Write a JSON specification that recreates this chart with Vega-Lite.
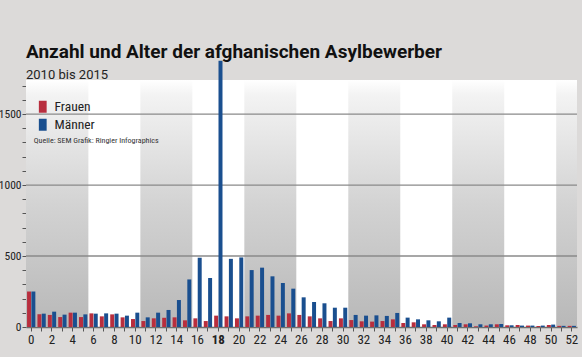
{
  "$schema": "https://vega.github.io/schema/vega-lite/v6.json",
  "width": 551,
  "height": 247,
  "autosize": {"type": "none"},
  "padding": {"left": 26, "top": 80, "right": 5, "bottom": 30},
  "background": "#dcdad9",
  "view": {"fill": "#ffffff", "stroke": null},
  "config": {
    "axisY": {
      "labelOverlap": false,
      "format": "d",
      "labelFont": "Roboto Condensed, Liberation Sans Narrow, DejaVu Sans Condensed, Roboto",
      "labelFontSize": 11.5,
      "labelColor": "#222222",
      "labelPadding": 1,
      "tickSize": 4,
      "tickColor": "#555555",
      "domain": false,
      "grid": false,
      "title": null
    }
  },
  "title": {
    "text": "Anzahl und Alter der afghanischen Asylbewerber",
    "subtitle": "2010 bis 2015",
    "anchor": "start",
    "frame": "group",
    "font": "Roboto",
    "fontSize": 19,
    "fontWeight": "bold",
    "color": "#111111",
    "subtitleFont": "Roboto",
    "subtitleFontSize": 13,
    "subtitleColor": "#222222",
    "subtitlePadding": 7,
    "offset": -21
  },
  "datasets": {
    "stripes": [
      {"start": -0.5, "end": 5.5},
      {"start": 10.5, "end": 15.5},
      {"start": 20.5, "end": 25.5},
      {"start": 30.5, "end": 35.5},
      {"start": 40.5, "end": 45.5},
      {"start": 50.5, "end": 52.5}
    ],
    "grid": [{"n": 500}, {"n": 1000}, {"n": 1500}],
    "bars": [
      {"age": 0, "sex": "Frauen", "n": 250}, {"age": 0, "sex": "Männer", "n": 250},
      {"age": 1, "sex": "Frauen", "n": 90}, {"age": 1, "sex": "Männer", "n": 94},
      {"age": 2, "sex": "Frauen", "n": 85}, {"age": 2, "sex": "Männer", "n": 108},
      {"age": 3, "sex": "Frauen", "n": 70}, {"age": 3, "sex": "Männer", "n": 87},
      {"age": 4, "sex": "Frauen", "n": 101}, {"age": 4, "sex": "Männer", "n": 101},
      {"age": 5, "sex": "Frauen", "n": 70}, {"age": 5, "sex": "Männer", "n": 89},
      {"age": 6, "sex": "Frauen", "n": 96}, {"age": 6, "sex": "Männer", "n": 94},
      {"age": 7, "sex": "Frauen", "n": 75}, {"age": 7, "sex": "Männer", "n": 96},
      {"age": 8, "sex": "Frauen", "n": 89}, {"age": 8, "sex": "Männer", "n": 94},
      {"age": 9, "sex": "Frauen", "n": 68}, {"age": 9, "sex": "Männer", "n": 80},
      {"age": 10, "sex": "Frauen", "n": 56}, {"age": 10, "sex": "Männer", "n": 101},
      {"age": 11, "sex": "Frauen", "n": 42}, {"age": 11, "sex": "Männer", "n": 68},
      {"age": 12, "sex": "Frauen", "n": 61}, {"age": 12, "sex": "Männer", "n": 101},
      {"age": 13, "sex": "Frauen", "n": 65}, {"age": 13, "sex": "Männer", "n": 120},
      {"age": 14, "sex": "Frauen", "n": 68}, {"age": 14, "sex": "Männer", "n": 190},
      {"age": 15, "sex": "Frauen", "n": 47}, {"age": 15, "sex": "Männer", "n": 335},
      {"age": 16, "sex": "Frauen", "n": 61}, {"age": 16, "sex": "Männer", "n": 488},
      {"age": 17, "sex": "Frauen", "n": 42}, {"age": 17, "sex": "Männer", "n": 345},
      {"age": 18, "sex": "Frauen", "n": 80}, {"age": 18, "sex": "Männer", "n": 1875},
      {"age": 19, "sex": "Frauen", "n": 75}, {"age": 19, "sex": "Männer", "n": 480},
      {"age": 20, "sex": "Frauen", "n": 61}, {"age": 20, "sex": "Männer", "n": 490},
      {"age": 21, "sex": "Frauen", "n": 75}, {"age": 21, "sex": "Männer", "n": 401},
      {"age": 22, "sex": "Frauen", "n": 80}, {"age": 22, "sex": "Männer", "n": 418},
      {"age": 23, "sex": "Frauen", "n": 85}, {"age": 23, "sex": "Männer", "n": 357},
      {"age": 24, "sex": "Frauen", "n": 80}, {"age": 24, "sex": "Männer", "n": 310},
      {"age": 25, "sex": "Frauen", "n": 96}, {"age": 25, "sex": "Männer", "n": 270},
      {"age": 26, "sex": "Frauen", "n": 85}, {"age": 26, "sex": "Männer", "n": 209},
      {"age": 27, "sex": "Frauen", "n": 75}, {"age": 27, "sex": "Männer", "n": 176},
      {"age": 28, "sex": "Frauen", "n": 61}, {"age": 28, "sex": "Männer", "n": 167},
      {"age": 29, "sex": "Frauen", "n": 42}, {"age": 29, "sex": "Männer", "n": 136},
      {"age": 30, "sex": "Frauen", "n": 61}, {"age": 30, "sex": "Männer", "n": 136},
      {"age": 31, "sex": "Frauen", "n": 49}, {"age": 31, "sex": "Männer", "n": 85},
      {"age": 32, "sex": "Frauen", "n": 40}, {"age": 32, "sex": "Männer", "n": 80},
      {"age": 33, "sex": "Frauen", "n": 38}, {"age": 33, "sex": "Männer", "n": 82},
      {"age": 34, "sex": "Frauen", "n": 42}, {"age": 34, "sex": "Männer", "n": 78},
      {"age": 35, "sex": "Frauen", "n": 54}, {"age": 35, "sex": "Männer", "n": 99},
      {"age": 36, "sex": "Frauen", "n": 28}, {"age": 36, "sex": "Männer", "n": 66},
      {"age": 37, "sex": "Frauen", "n": 33}, {"age": 37, "sex": "Männer", "n": 54},
      {"age": 38, "sex": "Frauen", "n": 19}, {"age": 38, "sex": "Männer", "n": 47},
      {"age": 39, "sex": "Frauen", "n": 14}, {"age": 39, "sex": "Männer", "n": 40},
      {"age": 40, "sex": "Frauen", "n": 19}, {"age": 40, "sex": "Männer", "n": 66},
      {"age": 41, "sex": "Frauen", "n": 14}, {"age": 41, "sex": "Männer", "n": 28},
      {"age": 42, "sex": "Frauen", "n": 19}, {"age": 42, "sex": "Männer", "n": 26},
      {"age": 43, "sex": "Frauen", "n": 5}, {"age": 43, "sex": "Männer", "n": 19},
      {"age": 44, "sex": "Frauen", "n": 10}, {"age": 44, "sex": "Männer", "n": 19},
      {"age": 45, "sex": "Frauen", "n": 19}, {"age": 45, "sex": "Männer", "n": 21},
      {"age": 46, "sex": "Frauen", "n": 12}, {"age": 46, "sex": "Männer", "n": 12},
      {"age": 47, "sex": "Frauen", "n": 14}, {"age": 47, "sex": "Männer", "n": 10},
      {"age": 48, "sex": "Frauen", "n": 10}, {"age": 48, "sex": "Männer", "n": 10},
      {"age": 49, "sex": "Frauen", "n": 7}, {"age": 49, "sex": "Männer", "n": 10},
      {"age": 50, "sex": "Frauen", "n": 14}, {"age": 50, "sex": "Männer", "n": 17},
      {"age": 51, "sex": "Frauen", "n": 8}, {"age": 51, "sex": "Männer", "n": 8},
      {"age": 52, "sex": "Frauen", "n": 8}, {"age": 52, "sex": "Männer", "n": 8}
    ]
  },
  "layer": [
    {
      "layer": [
        {
          "data": {"name": "stripes"},
          "mark": {
            "type": "rect",
            "color": {
              "gradient": "linear",
              "x1": 0, "y1": 0, "x2": 0, "y2": 1,
              "stops": [
                {"offset": 0, "color": "#ffffff"},
                {"offset": 0.06, "color": "#f3f3f3"},
                {"offset": 0.5, "color": "#d3d3d3"},
                {"offset": 1, "color": "#b8b8b8"}
              ]
            }
          },
          "encoding": {
            "x": {"field": "start", "type": "quantitative", "scale": {"domain": [-0.5, 52.5], "nice": false, "zero": false}, "axis": null},
            "x2": {"field": "end"}
          }
        },
        {
          "data": {"name": "grid"},
          "mark": {"type": "rule", "color": "#8a8a8a", "strokeWidth": 1.3},
          "encoding": {
            "y": {
              "field": "n", "type": "quantitative",
              "scale": {"domain": [0, 1740], "nice": false},
              "axis": {
                "orient": "left",
                "title": null,
                "values": [0, 100, 200, 300, 400, 500, 600, 700, 800, 900, 1000, 1100, 1200, 1300, 1400, 1500, 1600, 1700],
                "labelExpr": "datum.value % 500 === 0 ? datum.label : ''"
              }
            }
          }
        },
        {
          "data": {"values": [{"src": "Quelle: SEM  Grafik: Ringier Infographics"}]},
          "mark": {"type": "text", "align": "left", "baseline": "middle", "fontSize": 8, "font": "Roboto Condensed, Liberation Sans Narrow, DejaVu Sans Condensed, Roboto", "color": "#333333"},
          "encoding": {
            "x": {"datum": 0.25, "type": "quantitative"},
            "y": {
              "datum": 1310, "type": "quantitative",
              "axis": {
                "orient": "left",
                "title": null,
                "values": [0, 100, 200, 300, 400, 500, 600, 700, 800, 900, 1000, 1100, 1200, 1300, 1400, 1500, 1600, 1700],
                "labelExpr": "datum.value % 500 === 0 ? datum.label : ''"
              }
            },
            "text": {"field": "src"}
          }
        }
      ]
    },
    {
      "data": {"name": "bars"},
      "mark": {"type": "bar"},
      "encoding": {
        "x": {
          "field": "age", "type": "ordinal",
          "scale": {"paddingInner": 0.2, "paddingOuter": 0.1},
          "axis": {
            "orient": "bottom",
            "title": null,
            "labelAngle": 0,
            "labelOverlap": false,
            "labelExpr": "datum.value % 2 === 0 ? datum.label : ''",
            "labelFontWeight": {"condition": {"test": "datum.value == 18", "value": "bold"}, "value": "normal"},
            "labelFont": "Roboto Condensed, Liberation Sans Narrow, DejaVu Sans Condensed, Roboto",
            "labelFontSize": 13,
            "labelColor": "#222222",
            "labelPadding": 2,
            "tickSize": 4,
            "tickColor": "#555555",
            "domainColor": "#6e6e6e",
            "domainWidth": 1.5
          }
        },
        "xOffset": {"field": "sex", "type": "nominal", "scale": {"domain": ["Frauen", "Männer"], "paddingInner": 0.08}},
        "y": {
          "field": "n", "type": "quantitative",
          "scale": {"domain": [0, 1740], "nice": false},
          "axis": {
            "orient": "left",
            "title": null,
            "values": [0, 100, 200, 300, 400, 500, 600, 700, 800, 900, 1000, 1100, 1200, 1300, 1400, 1500, 1600, 1700],
            "labelExpr": "datum.value % 500 === 0 ? datum.label : ''"
          }
        },
        "color": {
          "field": "sex", "type": "nominal",
          "scale": {"domain": ["Frauen", "Männer"], "range": ["#b82e3e", "#1a4f8f"]},
          "legend": {
            "title": null,
            "orient": "none",
            "legendX": 10,
            "legendY": 20,
            "padding": 0,
            "symbolType": "M-0.65,-1H0.65V1H-0.65Z",
            "symbolSize": 144,
            "symbolStrokeWidth": 0,
            "symbolOpacity": 1,
            "labelFont": "Roboto Condensed, Liberation Sans Narrow, DejaVu Sans Condensed, Roboto",
            "labelFontSize": 13.5,
            "labelColor": "#222222",
            "labelOffset": 5,
            "rowPadding": 3
          }
        }
      }
    }
  ],
  "resolve": {"scale": {"x": "independent"}}
}
